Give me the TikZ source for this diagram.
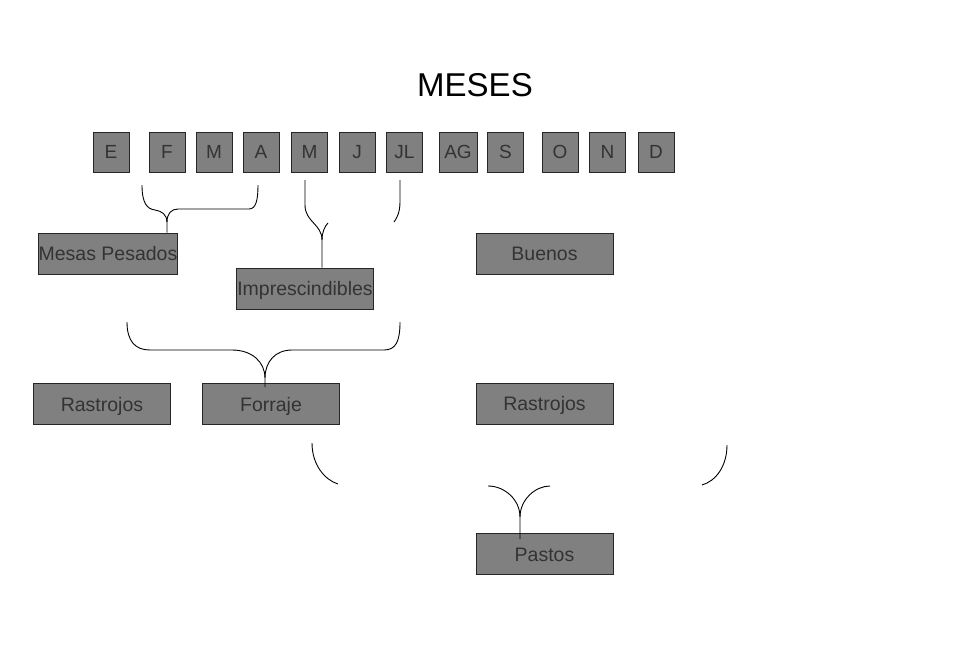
\documentclass[tikz,border=0pt]{standalone}
\usepackage{fontspec}
\setmainfont{Liberation Sans}
\begin{document}
\begin{tikzpicture}[x=1pt,y=-1pt,
  month/.style={draw=black!85,line width=1pt,fill=boxgray,minimum width=36pt,minimum height=40pt,inner sep=0pt,text=black!80,text height=13.6pt,text depth=0pt,font=\fontsize{19}{19}\selectfont},
  bigbox/.style={draw=black!85,line width=1pt,fill=boxgray,minimum width=137pt,minimum height=41pt,inner sep=0pt,text=black!80,text height=14pt,text depth=0pt,font=\fontsize{19.5}{20}\selectfont},
  brace/.style={draw=black,line width=0.9pt}]
\definecolor{boxgray}{RGB}{128,128,128}
\useasboundingbox (0,0) rectangle (969,649);
\fill[white] (0,0) rectangle (969,649);
\node[font=\fontsize{33}{33}\selectfont] (title) at (475,85) {MESES};
% months
\node[month] (mE)  at (111,152) {E};
\node[month] (mF)  at (167,152) {F};
\node[month] (mM)  at (214,152) {M};
\node[month] (mA)  at (261,152) {A};
\node[month] (mM2) at (309.5,152) {M};
\node[month] (mJ)  at (357,152) {J};
\node[month] (mJL) at (404.5,152) {JL};
\node[month,minimum width=38pt] (mAG) at (458,152) {AG};
\node[month] (mS)  at (505.5,152) {S};
\node[month] (mO)  at (560,152) {O};
\node[month] (mN)  at (607.5,152) {N};
\node[month] (mD)  at (656,152) {D};
% boxes
\node[bigbox] (mp)  at (108,253.5) {Mesas Pesados};
\node[bigbox] (imp) at (305,288.5) {Imprescindibles};
\node[bigbox] (bue) at (544.5,253.5) {Buenos};
\node[bigbox] (ras1) at (102,404) {Rastrojos};
\node[bigbox] (forr) at (271,404) {Forraje};
\node[bigbox] (ras2) at (544.5,403.5) {Rastrojos};
\node[bigbox] (pas) at (544.5,554) {Pastos};
% brace coordinates
\coordinate (b1l) at (142,185);
\coordinate (b1r) at (258,185);
\coordinate (b1t) at (167,222);
\coordinate (b2s) at (305,180);
\coordinate (b2t) at (322,240);
\coordinate (b2r) at (328,223);
\coordinate (b3s) at (400,180);
\coordinate (b3e) at (394,222);
\coordinate (b4l) at (127,322);
\coordinate (b4r) at (400,322);
\coordinate (b4t) at (265,378);
\coordinate (c1s) at (312,443);
\coordinate (c1e) at (338,484);
\coordinate (c2s) at (727,445);
\coordinate (c2e) at (702,485);
\coordinate (b5l) at (488,486);
\coordinate (b5r) at (550,486);
\coordinate (b5t) at (520,517);
% brace F..A -> Mesas Pesados
\draw[brace] (b1l) .. controls (142,203) and (147,209) .. (155,210)
  .. controls (162,211) and (167,215) .. (b1t) -- (mp.north -| b1t);
\draw[brace] (b1t) .. controls (167,214) and (171,209) .. (178,209) -- (249,209)
  .. controls (256,209) and (258,200) .. (b1r);
% brace M -> Imprescindibles
\draw[brace] (b2s) -- (305,205) .. controls (305,222) and (322,224) .. (b2t) -- (imp.north -| b2t);
\draw[brace] (b2t) .. controls (322,232) and (325,226) .. (b2r);
% JL
\draw[brace] (b3s) -- (400,202) .. controls (400,212) and (397,218) .. (b3e);
% big brace -> Forraje
\draw[brace] (b4l) .. controls (127,341) and (135,350) .. (150,350) -- (232,350)
  .. controls (252,350) and (265,362) .. (b4t) -- ([yshift=-4pt]forr.north -| b4t);
\draw[brace] (b4t) .. controls (265,362) and (275,350) .. (292,350) -- (384,350)
  .. controls (396,350) and (400,341) .. (b4r);
% partial curves
\draw[brace] (c1s) .. controls (312,465) and (325,480) .. (c1e);
\draw[brace] (c2s) .. controls (727,466) and (716,481) .. (c2e);
% brace -> Pastos
\draw[brace] (b5l) .. controls (505,486) and (520,500) .. (b5t) -- ([yshift=-6pt]pas.north -| b5t);
\draw[brace] (b5t) .. controls (520,500) and (535,486) .. (b5r);
\end{tikzpicture}
\end{document}
